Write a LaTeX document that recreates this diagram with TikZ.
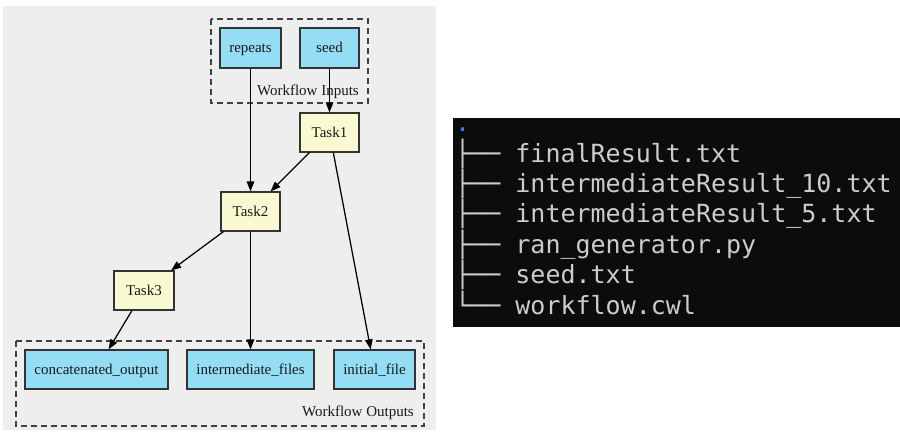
\documentclass[tikz,border=0pt]{standalone}
\usepackage{fontspec}
\setmainfont{Liberation Serif}
\newfontfamily\termfont{DejaVu Sans Mono}
\usetikzlibrary{arrows.meta}
\definecolor{ioblue}{HTML}{94DDF4}
\definecolor{stepyellow}{HTML}{FAFAD2}
\definecolor{panelgray}{HTML}{EEEEEE}
\definecolor{termbg}{HTML}{0C0C0C}
\definecolor{termfg}{HTML}{CCCCCC}
\definecolor{termblue}{HTML}{3B78FF}
\tikzset{
  box/.style={draw=black!80, line width=1.2pt, inner sep=0pt, font=\fontsize{15}{18}\selectfont, text=black!90, text height=11pt, text depth=1.5pt},
  iobox/.style={box, fill=ioblue},
  stepbox/.style={box, fill=stepyellow},
  cluster/.style={draw=black!75, line width=1.1pt, dash pattern=on 6pt off 4pt},
  clusterlabel/.style={font=\fontsize{15}{18}\selectfont, text=black!90, inner sep=0pt},
  edge/.style={draw=black, line width=1.25pt, -{Triangle[length=10pt,width=7.5pt]}},
  treeline/.style={font=\termfont\fontsize{25}{30}\selectfont, text=termfg, inner sep=0pt, anchor=base west},
}
\begin{document}
\begin{tikzpicture}[x=1pt,y=-1pt]
\useasboundingbox (0,0) rectangle (900,432);
% left panel
\fill[panelgray] (3,6) rectangle (436,430);
\draw[cluster] (211,19) rectangle (368,103);
\draw[cluster] (16,341) rectangle (424,426);
\node[clusterlabel, anchor=base east] (inlbl) at (359,95) {Workflow Inputs};
\node[clusterlabel, anchor=base east] (outlbl) at (414,416) {Workflow Outputs};

\node[iobox, minimum width=61pt, minimum height=40pt] (repeats) at (250.5,48) {repeats};
\node[iobox, minimum width=59pt, minimum height=40pt] (seed) at (329.5,48) {seed};
\node[stepbox, minimum width=59pt, minimum height=39pt] (task1) at (329.5,132.5) {Task1};
\node[stepbox, minimum width=59pt, minimum height=39pt] (task2) at (250.5,211.5) {Task2};
\node[stepbox, minimum width=60pt, minimum height=39pt] (task3) at (144,290.5) {Task3};
\node[iobox, minimum width=143pt, minimum height=39pt] (concat) at (96.5,369.5) {concatenated\_output};
\node[iobox, minimum width=127pt, minimum height=39pt] (interm) at (250.5,369.5) {intermediate\_files};
\node[iobox, minimum width=81pt, minimum height=39pt] (initial) at (374.5,369.5) {initial\_file};

\draw[edge] (repeats) -- (task2);
\draw[edge] (seed) -- (task1);
\draw[edge] (task1) -- (task2);
\draw[edge] (task1) -- (initial);
\draw[edge] (task2) -- (task3);
\draw[edge] (task2) -- (interm);
\draw[edge] (task3) -- (concat);

% right panel: terminal tree output
\fill[termbg] (453,118) rectangle (900,327);
\node[treeline, text=termblue] (dot) at (455,131.6) {.};
\node[treeline] (f1) at (455,162) {├── finalResult.txt};
\node[treeline] (f2) at (455,192.4) {├── intermediateResult\_10.txt};
\node[treeline] (f3) at (455,222.8) {├── intermediateResult\_5.txt};
\node[treeline] (f4) at (455,253.2) {├── ran\_generator.py};
\node[treeline] (f5) at (455,283.6) {├── seed.txt};
\node[treeline] (f6) at (455,314) {└── workflow.cwl};
\end{tikzpicture}
\end{document}
